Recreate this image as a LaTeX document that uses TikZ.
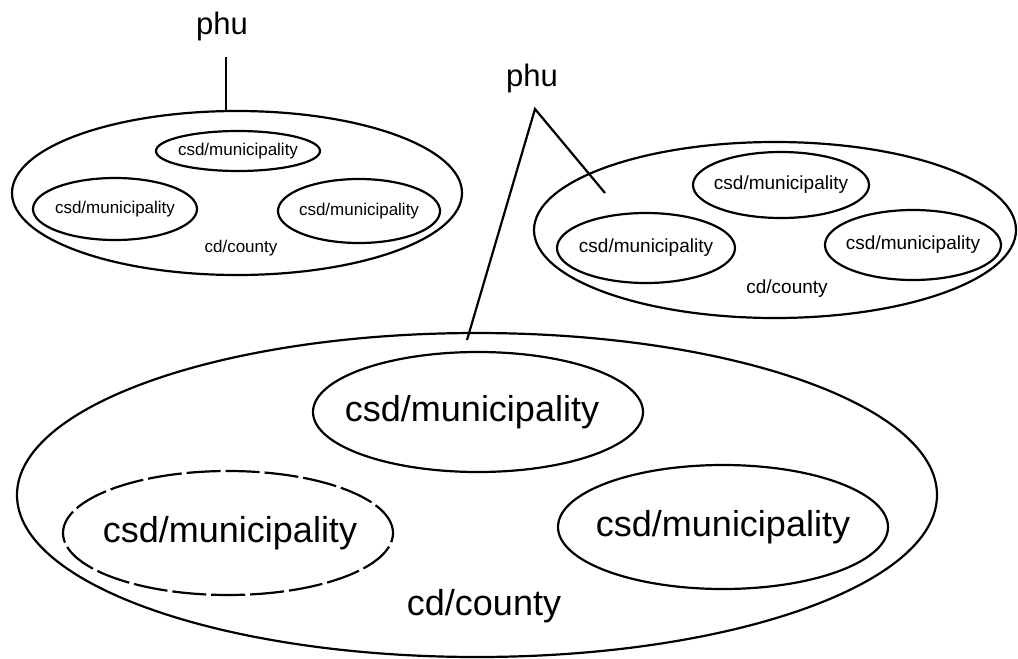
\documentclass[tikz,border=0pt]{standalone}
\usepackage{fontspec}
\setmainfont{Liberation Sans}
\usetikzlibrary{shapes.geometric}
\begin{document}
\begin{tikzpicture}[x=1pt,y=-1pt,
  region/.style={ellipse, draw, line width=2.2pt, inner sep=0pt},
  bigtxt/.style={font=\fontsize{36}{40}\selectfont, inner sep=0pt},
  midtxt/.style={font=\fontsize{19}{22}\selectfont, inner sep=0pt},
  smalltxt/.style={font=\fontsize{17}{20}\selectfont, inner sep=0pt},
  phutxt/.style={font=\fontsize{31}{34}\selectfont, inner sep=0pt},
  link/.style={line width=2.2pt},
  brokenline/.style={dash pattern=on 34pt off 5pt}]
\useasboundingbox (0,0) rectangle (1018,659);

% ---------- top-left cluster ----------
\node[region, minimum width=450pt, minimum height=164pt] (cdA) at (237,193) {};
\node[region, minimum width=164pt, minimum height=40pt] (csdA1) at (238,151) {};
\node[region, minimum width=164pt, minimum height=62pt] (csdA2) at (115,209) {};
\node[region, minimum width=162pt, minimum height=64pt] (csdA3) at (359,211) {};
\node[smalltxt] (tA1) at (csdA1) {csd/municipality};
\node[smalltxt] (tA2) at (csdA2) {csd/municipality};
\node[smalltxt] (tA3) at (csdA3) {csd/municipality};
\node[smalltxt] (cntA) at (241,248) {cd/county};
\node[phutxt] (phuA) at (222,26) {phu};
\coordinate (phuAfoot) at (226,57);
\coordinate (phuAend) at (226,112);
\draw[link] (phuAfoot) -- (phuAend);

% ---------- right cluster ----------
\node[region, minimum width=482pt, minimum height=176pt] (cdB) at (775,230) {};
\node[region, minimum width=176pt, minimum height=66pt] (csdB1) at (781,185) {};
\node[region, minimum width=178pt, minimum height=70pt] (csdB2) at (646,248) {};
\node[region, minimum width=176pt, minimum height=70pt] (csdB3) at (913,245) {};
\node[midtxt] (tB1) at (csdB1) {csd/municipality};
\node[midtxt] (tB2) at (csdB2) {csd/municipality};
\node[midtxt] (tB3) at (csdB3) {csd/municipality};
\node[midtxt] (cntB) at (787,289) {cd/county};

% ---------- big cluster ----------
\node[region, minimum width=920pt, minimum height=324pt] (cdC) at (477,495) {};
\node[region, minimum width=330pt, minimum height=120pt] (csdC1) at (478,412) {};
\node[region, brokenline, minimum width=330pt, minimum height=124pt] (csdC2) at (228,533) {};
\node[region, minimum width=330pt, minimum height=124pt] (csdC3) at (723,527) {};
\node[bigtxt] (tC1) at ([xshift=-6pt]csdC1) {csd/municipality};
\node[bigtxt] (tC2) at ([xshift=2pt]csdC2) {csd/municipality};
\node[bigtxt] (tC3) at (csdC3) {csd/municipality};
\node[bigtxt] (cntC) at (484,606) {cd/county};

% ---------- shared phu ----------
\node[phutxt] (phuB) at (532,78) {phu};
\coordinate (apex) at (535,109);
\coordinate (endB) at (605,193);
\coordinate (endC) at (467,340);
\draw[link] (endB) -- (apex) -- (endC);
\end{tikzpicture}
\end{document}
